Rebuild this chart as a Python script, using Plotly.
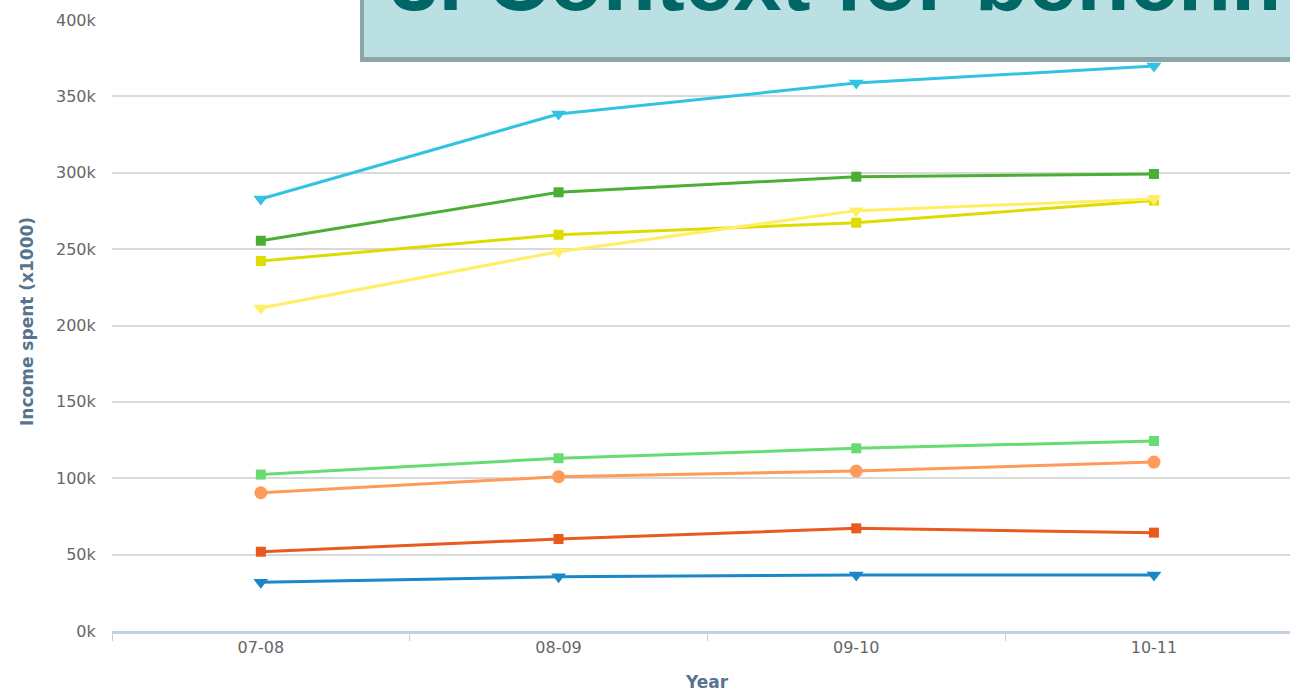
import plotly.graph_objects as go

years = ["07-08", "08-09", "09-10", "10-11"]

cyan_vals = [282800, 338500, 358700, 369900]
dark_green_vals = [255500, 287200, 297400, 299200]
olive_yellow_vals = [242200, 259400, 267300, 281800]
light_yellow_vals = [211500, 248300, 275200, 282800]
light_green_vals = [102400, 113100, 119600, 124400]
orange_vals = [90500, 101000, 104700, 110600]
red_vals = [51900, 60200, 67200, 64400]
blue_vals = [31900, 35500, 36700, 36700]

y_tick_vals = [0, 50000, 100000, 150000, 200000, 250000, 300000, 350000, 400000]
y_tick_text = ["0k", "50k", "100k", "150k", "200k", "250k", "300k", "350k", "400k"]

title_text = "3. Context for benchmarking"
y_title = "Income spent (x1000)"
x_title = "Year"

series = [
    ("Series A", blue_vals, "#1A88C8", "triangle-down", 13),
    ("Series B", red_vals, "#E85A1E", "square", 10),
    ("Series C", orange_vals, "#FF9A5A", "circle", 13),
    ("Series D", light_green_vals, "#66DC72", "square", 10),
    ("Series E", olive_yellow_vals, "#DCDC00", "square", 10),
    ("Series F", light_yellow_vals, "#FFEE66", "triangle-down", 13),
    ("Series G", dark_green_vals, "#4BAF35", "square", 10),
    ("Series H", cyan_vals, "#33C3E2", "triangle-down", 13),
]

fig = go.Figure()
for name, vals, color, sym, size in series:
    fig.add_trace(go.Scatter(
        x=years, y=vals, name=name, mode="lines+markers",
        line=dict(color=color, width=3),
        marker=dict(symbol=sym, size=size, color=color, line=dict(width=0)),
        showlegend=False,
    ))

W, H = 1290, 691
L, R, T, B = 112, 0, 20, 60
pw = W - L - R
ph = H - T - B


def px(x):
    return (x - L) / pw


def py(y):
    return (H - B - y) / ph


shapes = [
    # border/shadow of the title box
    dict(type="rect", xref="paper", yref="paper", layer="above",
         x0=px(360), x1=px(1400), y0=py(62), y1=py(-20),
         fillcolor="#8CA6A6", line=dict(width=0)),
    dict(type="rect", xref="paper", yref="paper", layer="above",
         x0=px(364), x1=px(1400), y0=py(57), y1=py(-20),
         fillcolor="#BAE0E3", line=dict(width=0)),
]

annotations = [
    dict(text=title_text, xref="paper", yref="paper",
         x=px(388), y=py(30), xanchor="left", yanchor="bottom",
         showarrow=False,
         font=dict(family="Liberation Sans", size=87, color="#006666", weight="bold")),
    dict(text=y_title, xref="paper", yref="paper",
         x=px(27), y=py(322), xanchor="center", yanchor="middle",
         textangle=-90, showarrow=False,
         font=dict(family="DejaVu Sans", size=17, color="#56748F", weight="bold")),
    dict(text=x_title, xref="paper", yref="paper",
         x=px(707), y=py(682), xanchor="center", yanchor="middle",
         showarrow=False,
         font=dict(family="DejaVu Sans", size=17, color="#56748F", weight="bold")),
]

fig.update_layout(
    width=W, height=H,
    margin=dict(l=L, r=R, t=T, b=B, pad=0),
    paper_bgcolor="white", plot_bgcolor="white",
    shapes=shapes, annotations=annotations,
    font=dict(family="DejaVu Sans", size=14, color="#666666"),
    xaxis=dict(
        type="category", range=[-0.5, 3.457],
        showgrid=False, zeroline=False,
        showline=True, linecolor="#C3D0DE", linewidth=3,
        ticks="outside", tickson="boundaries", ticklen=7,
        tickcolor="#C3D0DE", tickwidth=1,
        tickfont=dict(family="DejaVu Sans", size=16, color="#666666"),
    ),
    yaxis=dict(
        range=[0, 400000], tickvals=y_tick_vals, ticktext=y_tick_text,
        showgrid=True, gridcolor="#D9D9D9", gridwidth=1.5,
        zeroline=False, showline=False,
        ticks="outside", ticklen=12, tickcolor="rgba(0,0,0,0)",
        tickfont=dict(family="DejaVu Sans", size=16, color="#666666"),
    ),
)

fig.write_html(
    "out.html",
    config={"displayModeBar": False},
    post_script="document.body.style.margin='0';document.body.style.overflow='hidden';",
)
